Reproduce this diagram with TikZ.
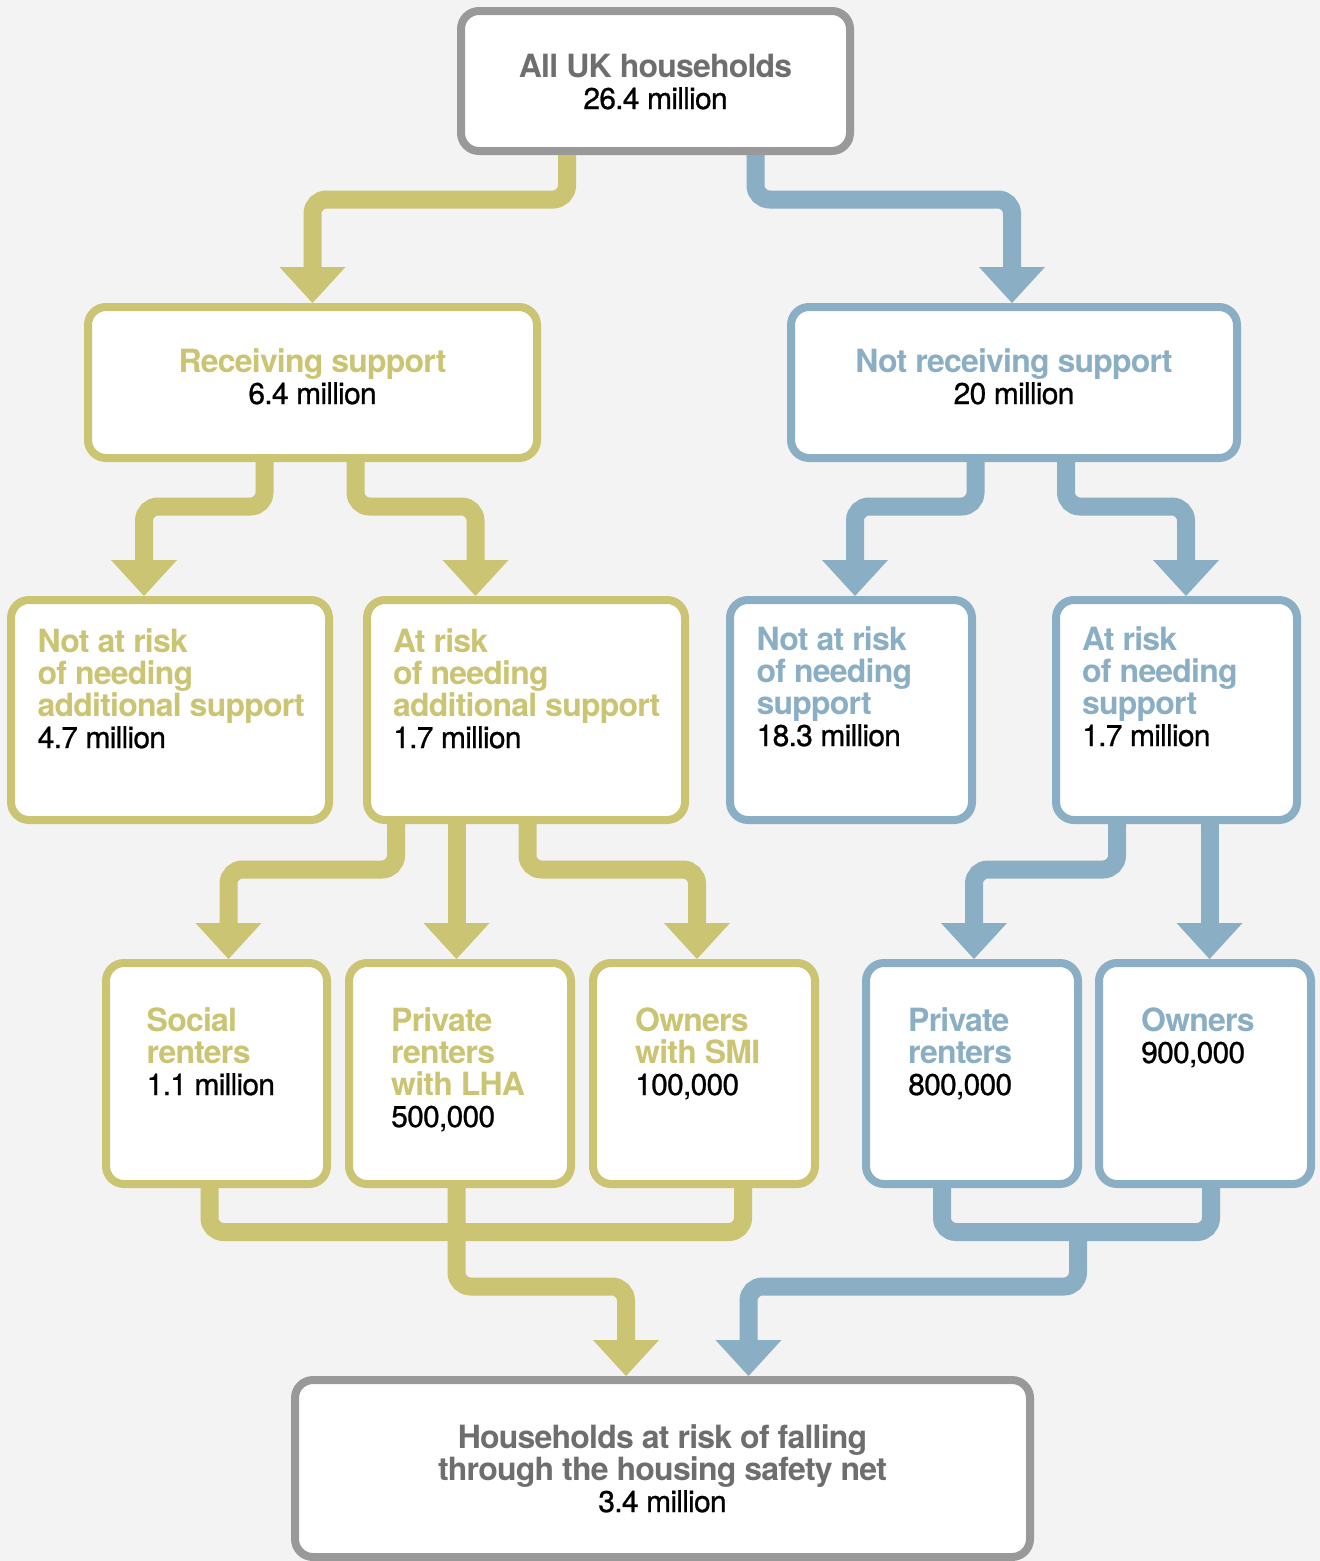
\documentclass[tikz,border=0pt]{standalone}
\usepackage{fontspec}
\setmainfont{TeX Gyre Heros}[LetterSpace=-2.5]
\usetikzlibrary{arrows.meta}

\definecolor{olv}{RGB}{202,196,115}
\definecolor{blu}{RGB}{138,174,196}
\definecolor{gry}{RGB}{153,153,153}
\definecolor{gtx}{RGB}{110,110,110}
\definecolor{bgc}{RGB}{243,243,243}

% number line, and stacked lines (left / centred), baseline on the first line
\newcommand\nm[1]{{\fontsize{30}{32}\selectfont\mdseries\addfontfeature{FakeBold=0.8}\color{black}#1}}
\newcommand\lns[1]{\vtop{\baselineskip=32pt\let\\\cr\halign{##\hfil\cr#1\crcr}}}
\newcommand\clns[1]{\vtop{\baselineskip=32pt\let\\\cr\halign{\hfil##\hfil\cr#1\crcr}}}

\tikzset{
  box/.style={draw, line width=8pt, rounded corners=18pt, fill=white, inner sep=0pt},
  gbox/.style={box, draw=gry},
  obox/.style={box, draw=olv},
  bbox/.style={box, draw=blu},
  con/.style={line width=18pt, rounded corners=14pt},
  ocon/.style={con, draw=olv},
  bcon/.style={con, draw=blu},
  downarr/.style={-{Triangle[length=36pt 0 0, width=66pt 0 0, line width=0pt]}},
  lbl/.style={inner sep=0pt, font=\fontsize{32}{32}\selectfont\bfseries},
}

\begin{document}
\begin{tikzpicture}[x=1pt,y=-1pt]
\useasboundingbox (0,0) rectangle (1320,1561);
\fill[bgc] (0,0) rectangle (1320,1561);

% boxes
\node[gbox, minimum width=389pt, minimum height=140pt] (top) at (655.5,81) {};
\node[obox, minimum width=449pt, minimum height=151pt] (rec) at (312.5,382.5) {};
\node[bbox, minimum width=446pt, minimum height=151pt] (nrec) at (1014,382.5) {};
\node[obox, minimum width=318pt, minimum height=220pt] (nar) at (170,710) {};
\node[obox, minimum width=318pt, minimum height=220pt] (ar) at (526,710) {};
\node[bbox, minimum width=242pt, minimum height=220pt] (bnar) at (851,710) {};
\node[bbox, minimum width=241pt, minimum height=220pt] (bar) at (1176.5,710) {};
\node[obox, minimum width=221pt, minimum height=221pt] (soc) at (216.5,1073.5) {};
\node[obox, minimum width=222pt, minimum height=221pt] (lha) at (460,1073.5) {};
\node[obox, minimum width=222pt, minimum height=221pt] (smi) at (704,1073.5) {};
\node[bbox, minimum width=212pt, minimum height=221pt] (bpr) at (972,1073.5) {};
\node[bbox, minimum width=212pt, minimum height=221pt] (bown) at (1205,1073.5) {};
\node[gbox, minimum width=735pt, minimum height=177pt] (bot) at (662.5,1468.5) {};

% texts
\node[lbl, text=gtx, anchor=base] (top-t) at ([yshift=-70pt]top.north) {\clns{All UK households\\\nm{26.4 million}}};
\node[lbl, text=olv, anchor=base] (rec-t) at ([yshift=-69pt]rec.north) {\clns{Receiving support\\\nm{6.4 million}}};
\node[lbl, text=blu, anchor=base] (nrec-t) at ([yshift=-69pt]nrec.north) {\clns{Not receiving support\\\nm{20 million}}};
\node[lbl, text=olv, anchor=base west] (nar-t) at ([xshift=30.5pt,yshift=-56pt]nar.north west) {\lns{Not at risk\\of needing\\additional support\\\nm{4.7 million}}};
\node[lbl, text=olv, anchor=base west] (ar-t) at ([xshift=30pt,yshift=-56pt]ar.north west) {\lns{At risk\\of needing\\additional support\\\nm{1.7 million}}};
\node[lbl, text=blu, anchor=base west] (bnar-t) at ([xshift=30.5pt,yshift=-54pt]bnar.north west) {\lns{Not at risk\\of needing\\support\\\nm{18.3 million}}};
\node[lbl, text=blu, anchor=base west] (bar-t) at ([xshift=30pt,yshift=-54pt]bar.north west) {\lns{At risk\\of needing\\support\\\nm{1.7 million}}};
\node[lbl, text=olv, anchor=base west] (soc-t) at ([xshift=44.5pt,yshift=-72pt]soc.north west) {\lns{Social\\renters\\\nm{1.1 million}}};
\node[lbl, text=olv, anchor=base west] (lha-t) at ([xshift=46pt,yshift=-72pt]lha.north west) {\lns{Private\\renters\\with LHA\\\nm{500,000}}};
\node[lbl, text=olv, anchor=base west] (smi-t) at ([xshift=46pt,yshift=-72pt]smi.north west) {\lns{Owners\\with SMI\\\nm{100,000}}};
\node[lbl, text=blu, anchor=base west] (bpr-t) at ([xshift=46pt,yshift=-72pt]bpr.north west) {\lns{Private\\renters\\\nm{800,000}}};
\node[lbl, text=blu, anchor=base west] (bown-t) at ([xshift=46pt,yshift=-72pt]bown.north west) {\lns{Owners\\\nm{900,000}}};
\node[lbl, text=gtx, anchor=base] (bot-t) at ([yshift=-72pt]bot.north) {\clns{Households at risk of falling\\through the housing safety net\\\nm{3.4 million}}};

% connectors
\draw[ocon, downarr] ([xshift=-88.5pt]top.south) -- ++(0,44.5) -| (rec.north);
\draw[bcon, downarr] ([xshift=100pt]top.south) -- ++(0,44.5) -| ([xshift=-2pt]nrec.north);
\draw[ocon, downarr] ([xshift=-48pt]rec.south) -- ++(0,44.5) -| ([xshift=-26pt]nar.north);
\draw[ocon, downarr] ([xshift=43pt]rec.south) -- ++(0,44.5) -| ([xshift=-50.5pt]ar.north);
\draw[bcon, downarr] ([xshift=-38.5pt]nrec.south) -- ++(0,44.5) -| ([xshift=4pt]bnar.north);
\draw[bcon, downarr] ([xshift=52pt]nrec.south) -- ++(0,44.5) -| ([xshift=9.5pt]bar.north);
\draw[ocon, downarr] ([xshift=-130pt]ar.south) -- ++(0,45.5) -| ([xshift=12pt]soc.north);
\draw[ocon, downarr] ([xshift=-69.5pt]ar.south) -- ([xshift=-3.5pt]lha.north);
\draw[ocon, downarr] ([xshift=1.5pt]ar.south) -- ++(0,45.5) -| ([xshift=-7pt]smi.north);
\draw[bcon, downarr] ([xshift=-59.5pt]bar.south) -- ++(0,45.5) -| ([xshift=2pt]bpr.north);
\draw[bcon, downarr] ([xshift=33pt]bar.south) -- ([xshift=4.5pt]bown.north);

% merging into the bottom box
\draw[ocon] ([xshift=-7pt]soc.south) -- ++(0,44) -| ([xshift=39pt]smi.south);
\draw[ocon, downarr] ([xshift=-3.5pt]lha.south) -- ++(0,98.5) -| ([xshift=-36.5pt]bot.north);
\draw[bcon] ([xshift=-30pt]bpr.south) -- ++(0,44) -| ([xshift=6pt]bown.south);
\coordinate (bjoin) at (1078,1232);
\draw[bcon, downarr] (bjoin) -- ++(0,54.5) -| ([xshift=86pt]bot.north);
\end{tikzpicture}
\end{document}
